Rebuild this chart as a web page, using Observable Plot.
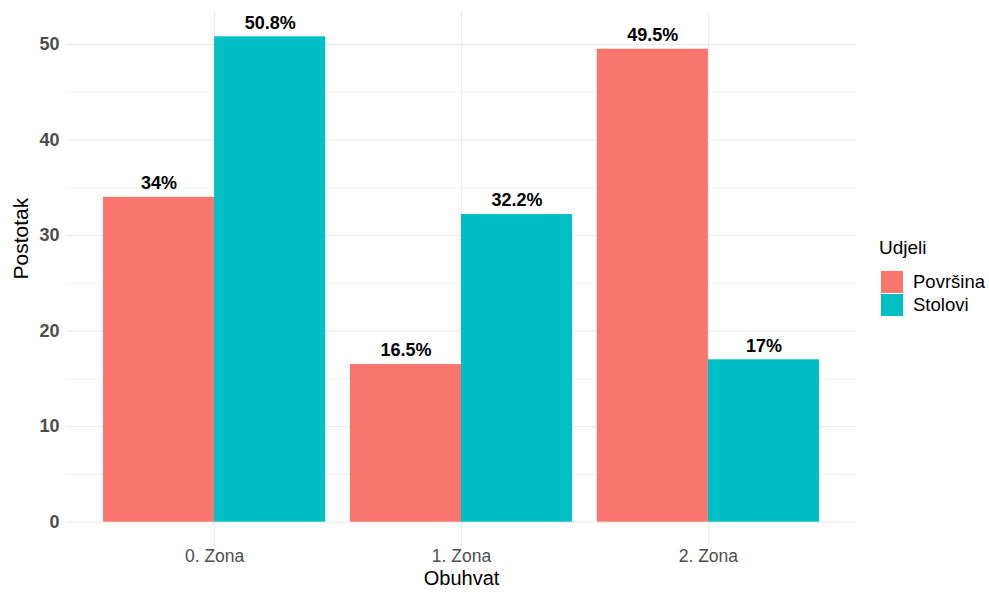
<!DOCTYPE html>
<html>
<head>
<meta charset="utf-8">
<script src="https://cdn.jsdelivr.net/npm/d3@7"></script>
<script src="https://cdn.jsdelivr.net/npm/@observablehq/plot@0.6"></script>
<style>
  html, body { margin: 0; padding: 0; background: #fff; }
  #wrap { position: relative; width: 989px; height: 593px; font-family: "Liberation Sans", Arial, sans-serif; }
  #legend { position: absolute; left: 879px; top: 236px; color: #000; }
  #legend .title { font-size: 19px; line-height: 24px; margin-bottom: 10px; }
  #legend .row { display: flex; align-items: center; height: 23.5px; padding-left: 2px; }
  #legend .key { width: 22px; height: 22px; margin-right: 10px; }
  #legend .lab { font-size: 18.5px; }
</style>
</head>
<body>
<div id="wrap"><div id="legend"></div></div>
<script>
const zones = ["0. Zona", "1. Zona", "2. Zona"];
const seriesNames = ["Površina", "Stolovi"];
const povrsina = [34, 16.5, 49.5];
const stolovi = [50.8, 32.2, 17];
const colors = ["#F8766D", "#00BFC4"];
const yTicks = [0, 10, 20, 30, 40, 50];
const yMinor = [5, 15, 25, 35, 45];

const seriesValues = [povrsina, stolovi];
const data = [];
zones.forEach((z, i) => {
  seriesNames.forEach((s, j) => {
    data.push({zone: z, zi: i + 1, series: s, si: j, value: seriesValues[j][i]});
  });
});

const dodge = 0.9;
const half = dodge / 2;
const ymax = d3.max(data, d => d.value);

const chart = Plot.plot({
  width: 989,
  height: 593,
  marginLeft: 66,
  marginRight: 133,
  marginTop: 12,
  marginBottom: 47,
  style: {fontFamily: '"Liberation Sans", Arial, sans-serif', background: "transparent"},
  x: {type: "linear", domain: [0.4, 3.6], axis: null},
  y: {domain: [-0.05 * ymax, 1.05 * ymax], axis: null},
  color: {domain: seriesNames, range: colors},
  marks: [
    Plot.gridY(yMinor, {stroke: "#EBEBEB", strokeOpacity: 1, strokeWidth: 0.6}),
    Plot.gridY(yTicks, {stroke: "#EBEBEB", strokeOpacity: 1, strokeWidth: 1.1}),
    Plot.gridX([1, 2, 3], {stroke: "#EBEBEB", strokeOpacity: 1, strokeWidth: 1.1}),
    Plot.rectY(data, {
      x1: d => d.zi - half + d.si * half,
      x2: d => d.zi - half + (d.si + 1) * half,
      y1: 0,
      y2: "value",
      fill: "series"
    }),
    Plot.text(data, {
      x: d => d.zi - half + (d.si + 0.5) * half,
      y: "value",
      text: d => d.value + "%",
      dy: -14,
      fontSize: 18,
      fontWeight: "bold",
      fill: "#000"
    }),
    Plot.axisY(yTicks, {
      tickSize: 0,
      tickPadding: 7,
      fontSize: 18,
      fontWeight: "bold",
      fill: "#4D4D4D",
      label: null
    }),
    Plot.axisX([1, 2, 3], {
      tickSize: 0,
      tickPadding: 3,
      fontSize: 17.5,
      fill: "#4D4D4D",
      tickFormat: d => zones[d - 1],
      label: null
    }),
    Plot.text(["Postotak"], {
      frameAnchor: "left",
      dx: -45,
      rotate: -90,
      fontSize: 21,
      fill: "#000"
    }),
    Plot.text(["Obuhvat"], {
      frameAnchor: "bottom",
      dy: 38,
      fontSize: 20,
      fill: "#000"
    })
  ]
});
document.getElementById("wrap").prepend(chart);
chart.style.position = "absolute";
chart.style.left = "0";
chart.style.top = "0";

const legend = document.getElementById("legend");
legend.innerHTML = '<div class="title">Udjeli</div>' +
  seriesNames.map((s, j) => `<div class="row"><div class="key" style="background:${colors[j]}"></div><div class="lab">${s}</div></div>`).join("");
</script>
</body>
</html>
